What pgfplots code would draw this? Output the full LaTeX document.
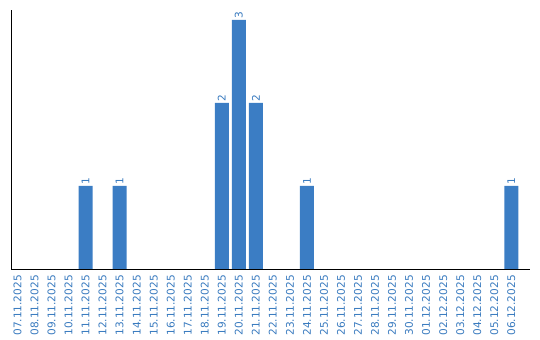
\documentclass[border=0pt]{standalone}
\usepackage{pgfplots}
\pgfplotsset{compat=1.18}
\usepackage{fontspec}
\setmainfont{DejaVu Sans}
\definecolor{barblue}{RGB}{59,125,196}
\definecolor{lblblue}{RGB}{58,123,191}
\begin{document}
\begin{tikzpicture}
\useasboundingbox (0,0) rectangle (540bp,340bp);
\begin{axis}[
  at={(11bp,71bp)}, anchor=south west,
  scale only axis, width=519bp, height=259bp,
  xmin=-0.38, xmax=30.1, ymin=0, ymax=3.12,
  axis x line*=bottom, axis y line*=left,
  axis line style={black, line width=1bp, -},
  ytick=\empty,
  xtick={0,...,29},
  xticklabels={07.11.2025,08.11.2025,09.11.2025,10.11.2025,11.11.2025,12.11.2025,13.11.2025,14.11.2025,15.11.2025,16.11.2025,17.11.2025,18.11.2025,19.11.2025,20.11.2025,21.11.2025,22.11.2025,23.11.2025,24.11.2025,25.11.2025,26.11.2025,27.11.2025,28.11.2025,29.11.2025,30.11.2025,01.12.2025,02.12.2025,03.12.2025,04.12.2025,05.12.2025,06.12.2025},
  major tick length=0pt,
  xticklabel style={rotate=90, anchor=east, font=\fontsize{10.6}{12}\selectfont, text=lblblue, inner sep=0pt},
  xticklabel shift=6bp,
  ybar, bar width=14bp,
  nodes near coords={\fontsize{10.6}{12}\selectfont\pgfmathprintnumber[assume math mode=true]{\pgfplotspointmeta}},
  every node near coord/.append style={rotate=90, anchor=west, text=lblblue, inner sep=1bp},
]
\addplot[fill=barblue, draw=none] coordinates {(4,1) (6,1) (12,2) (13,3) (14,2) (17,1) (29,1)};
\end{axis}
\end{tikzpicture}
\end{document}
